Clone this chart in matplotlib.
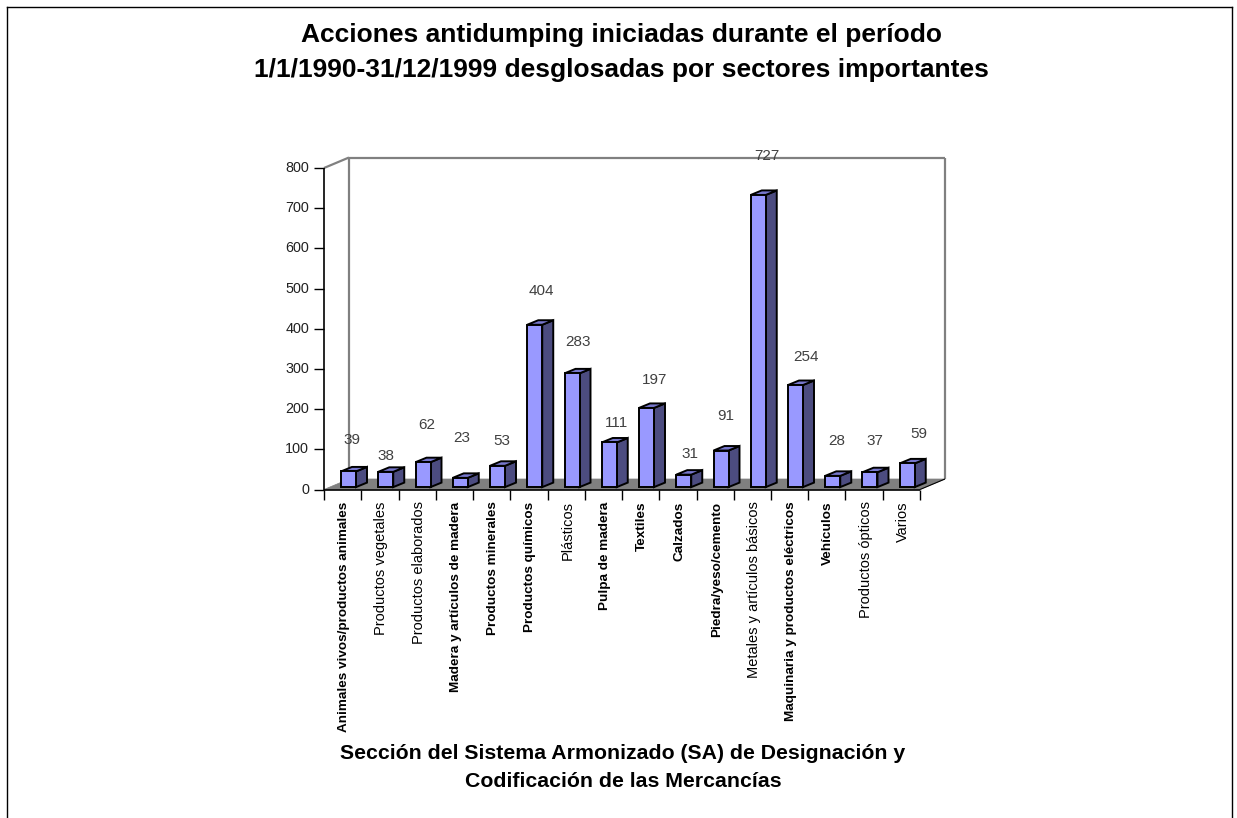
import matplotlib
matplotlib.use('Agg')
import matplotlib.pyplot as plt
from matplotlib.patches import Polygon
from matplotlib.lines import Line2D

plt.rcParams['font.family'] = ['Liberation Sans', 'DejaVu Sans']

categories = ['Animales vivos/productos animales', 'Productos vegetales', 'Productos elaborados',
              'Madera y artículos de madera', 'Productos minerales', 'Productos químicos', 'Plásticos',
              'Pulpa de madera', 'Textiles', 'Calzados', 'Piedra/yeso/cemento', 'Metales y artículos básicos',
              'Maquinaria y productos eléctricos', 'Vehículos', 'Productos ópticos', 'Varios']
values = [39, 38, 62, 23, 53, 404, 283, 111, 197, 31, 91, 727, 254, 28, 37, 59]
label_y_px = [440, 456, 425, 438, 441, 291, 342, 423, 380, 454, 416, 156, 357, 441, 441, 434]
label_x_px = [352, 386, 427, 462, 502, 541, 578, 616, 655, 690, 726, 767, 806, 837, 875, 919]
label_weight = ['bold', 'normal', 'normal', 'bold', 'bold', 'bold', 'normal', 'bold', 'bold', 'bold',
                'bold', 'normal', 'bold', 'bold', 'normal', 'normal']
yticks = [0, 100, 200, 300, 400, 500, 600, 700, 800]
title = 'Acciones antidumping iniciadas durante el período\n1/1/1990-31/12/1999 desglosadas por sectores importantes'
xlabel = 'Sección del Sistema Armonizado (SA) de Designación y\nCodificación de las Mercancías'

W, H = 1237, 818
fig = plt.figure(figsize=(W / 100, H / 100), dpi=100, facecolor='white')
X0, X1, Y0, Y1 = 324, 920, 489.5, 168
ax = fig.add_axes([X0 / W, 1 - Y0 / H, (X1 - X0) / W, (Y0 - Y1) / H])
ax.set_xlim(0, len(values))
ax.set_ylim(0, 800)
ax.axis('off')

ux = len(values) / (X1 - X0)   # data units per pixel
uy = 800 / (Y0 - Y1)
DX, DY = 25 * ux, 10.5 * uy    # chart depth


def poly(pts, fc, ec, lw, z):
    ax.add_patch(Polygon(pts, closed=True, fc=fc, ec=ec, lw=lw, zorder=z, clip_on=False, joinstyle='miter'))


def line(xs, ys, c, lw, z=2):
    ax.add_line(Line2D(xs, ys, color=c, lw=lw, zorder=z, clip_on=False, solid_capstyle='butt'))


n = len(values)
GR = '#808080'
poly([(0, 0), (DX, DY), (n + DX, DY), (n, 0)], GR, GR, 0.5, 1)
line([DX, DX], [DY, 800 + DY], GR, 1.6)
line([0, DX], [800, 800 + DY], GR, 1.6)
line([DX, n + DX], [800 + DY, 800 + DY], GR, 1.6)
line([n + DX, n + DX], [800 + DY, DY], GR, 1.6)
line([0, 0], [0, 800], 'black', 1.2, 3)
line([0, n], [0, 0], 'black', 1.2, 3)
line([n, n + DX], [0, DY], 'black', 0.8, 3)

for t in yticks:
    line([-10 * ux, 0], [t, t], 'black', 1.0, 3)
    ax.text(-15 * ux, t, str(t), ha='right', va='center', fontsize=10.4, color='#222222')
for i in range(n + 1):
    line([i, i], [0, -10 * uy], 'black', 1.0, 3)

bw = 15 * ux
bdx, bdy = 11 * ux, 4.5 * uy
off = 17 * ux  # bar's left edge from its tick
base = 2.4 * uy
for i, v in enumerate(values):
    l = i + off
    r = l + bw
    b, t = base, base + v
    poly([(r, b), (r + bdx, b + bdy), (r + bdx, t + bdy), (r, t)], '#4C4C80', 'black', 1.4, 5)
    poly([(l, t), (r, t), (r + bdx, t + bdy), (l + bdx, t + bdy)], '#7777CC', 'black', 1.4, 5)
    poly([(l, b), (r, b), (r, t), (l, t)], '#9999FF', 'black', 1.4, 6)
    bold = label_weight[i] == 'bold'
    ax.text(i + 0.5 + 1.5 * ux, -12 * uy, categories[i], rotation=90, ha='center', va='top',
            fontsize=9.7 if bold else 10.5, color='black', fontweight=label_weight[i])
    fig.text(label_x_px[i] / W, 1 - label_y_px[i] / H, str(v), ha='center', va='center',
             fontsize=11, color='#404040', zorder=8)

fig.text(621.5 / W, 1 - 52.5 / H, title, ha='center', va='center', fontsize=19, fontweight='bold',
         linespacing=1.54, color='black')
fig.text(623 / W, 1 - 767.5 / H, xlabel, ha='center', va='center', fontsize=15.3, fontweight='bold',
         linespacing=1.61, color='black')

# outer frame, open at the bottom
for xs, ys in [([6.5, 6.5], [818, 7]), ([6.5, 1232], [7, 7]), ([1232, 1232], [7, 818])]:
    fig.add_artist(Line2D([x / W for x in xs], [1 - y / H for y in ys], color='black', lw=1.0))

fig.savefig('out.png', dpi=100)
